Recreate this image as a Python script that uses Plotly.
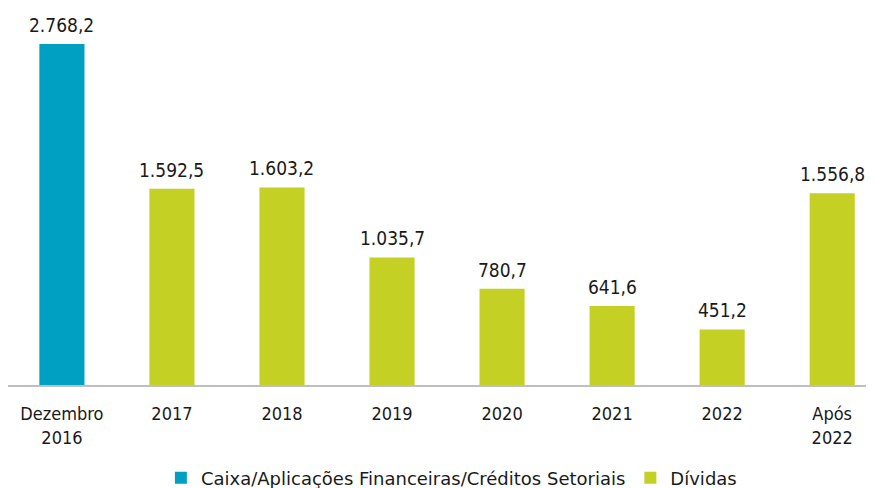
import plotly.graph_objects as go

categories = ["Dezembro<br>2016", "2017", "2018", "2019", "2020", "2021", "2022", "Após<br>2022"]
caixa_values = [2768.2]
dividas_values = [1592.5, 1603.2, 1035.7, 780.7, 641.6, 451.2, 1556.8]
series_names = ["Caixa/Aplicações Financeiras/Créditos Setoriais", "Dívidas"]

FONT = "DejaVu Sans Condensed, DejaVu Sans"
LFONT = "DejaVu Sans"
teal = "#00A0C2"
green = "#C4D024"

x_caixa = list(range(0, 1))
x_div = list(range(1, len(categories)))

fig = go.Figure()
fig.add_trace(go.Bar(x=x_caixa, y=caixa_values, name=series_names[0],
                     marker=dict(color=teal, line=dict(width=0)), width=0.41))
fig.add_trace(go.Bar(x=x_div, y=dividas_values, name=series_names[1],
                     marker=dict(color=green, line=dict(width=0)), width=0.41))

def fmt(v):
    s = f"{v:,.1f}"
    return s.replace(",", "X").replace(".", ",").replace("X", ".")

for xi, v in list(zip(x_caixa, caixa_values)) + list(zip(x_div, dividas_values)):
    fig.add_annotation(x=xi, y=v, text=fmt(v), showarrow=False, yanchor="bottom",
                       yshift=6, font=dict(family=FONT, size=19, color="#1a1a1a"))

fig.update_layout(
    width=866, height=480,
    margin=dict(l=0, r=0, t=0, b=103, autoexpand=False),
    plot_bgcolor="white", paper_bgcolor="white",
    barmode="overlay",
    font=dict(family=FONT, size=18, color="#1a1a1a"),
    showlegend=True,
    legend=dict(orientation="h", x=0.512, xanchor="center", y=-0.247, yanchor="middle",
                font=dict(family=LFONT, size=18, color="#1a1a1a"), itemwidth=30,
                traceorder="normal"),
    xaxis=dict(tickmode="array", tickvals=list(range(len(categories))), ticktext=categories,
               range=[-0.49, 7.38], showline=True, linecolor="#BFBFBF", linewidth=1.5,
               showgrid=False, ticks="", ticklabelstandoff=12, zeroline=False,
               automargin=False,
               tickfont=dict(family=FONT, size=18, color="#1a1a1a")),
    yaxis=dict(range=[0, 3060], visible=False, showgrid=False, zeroline=False,
               automargin=False),
)

fig.write_html("out.html")
